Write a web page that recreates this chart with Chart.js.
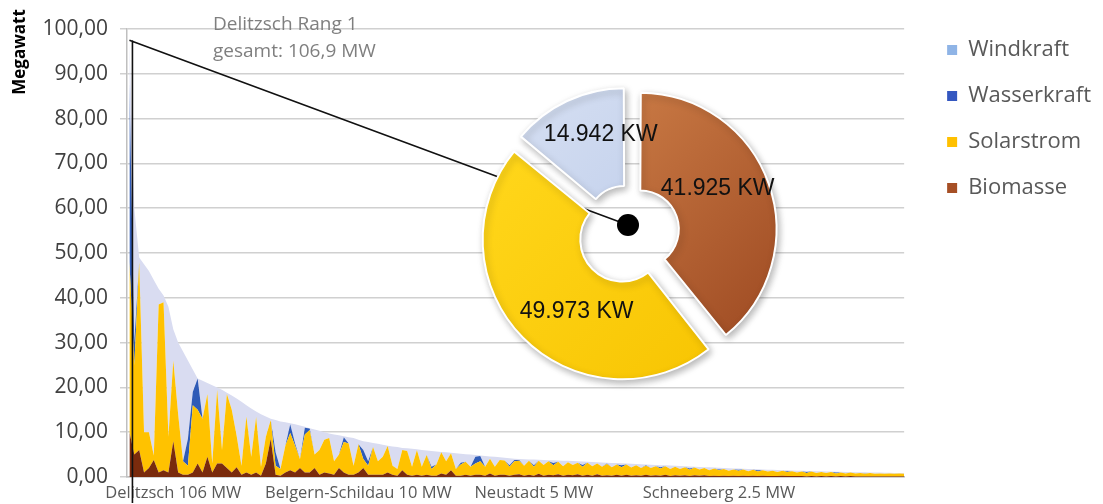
<!DOCTYPE html>
<html lang="de">
<head>
<meta charset="utf-8">
<title>Erneuerbare Energien je Gemeinde</title>
<script src="https://cdn.jsdelivr.net/npm/chart.js@4.4.1/dist/chart.umd.min.js"></script>
<style>
  html, body { margin: 0; padding: 0; background: #fff; }
  #wrap { position: relative; width: 1103px; height: 504px; }
  #mainChart { position: absolute; left: 0; top: 0; }
  #pieChart { position: absolute; left: 459px; top: 63px; }
</style>
</head>
<body>
<div id="wrap">
  <canvas id="mainChart" width="1103" height="504"></canvas>
  <canvas id="pieChart" width="340" height="340"></canvas>
</div>
<script>
// Leistung je Gemeinde in MW, absteigend sortiert (Rang 1 = Delitzsch)
const biomasse = [
  10, 5, 6, 1, 2, 3.8, 1, 1.5, 1, 8,
  1, 0.5, 0.5, 1, 3, 1, 4.5, 1, 3, 3,
  2, 1, 2.2, 0.5, 1, 0.5, 1, 0.3, 3, 8.5,
  0.5, 0.3, 1, 1.5, 1, 2, 1, 1, 2, 0.5,
  1, 0.8, 0.5, 2, 1, 0.5, 0.5, 1, 2, 0.5,
  0.5, 0.5, 0.5, 1, 0.5, 0.3, 1.5, 0.5, 0.3, 0.5,
  0.3, 0.5, 0.3, 0.3, 0.8, 0.5, 1.5, 0.3, 0.3, 0.5,
  0.3, 0.5, 0.5, 0.3, 0.8, 0.3, 0.5, 0.5, 0.3, 0.5,
  0.6, 0.3, 0.5, 0.3, 0.7, 0.3, 0.5, 0.4, 0.6, 0.3,
  0.5, 0.4, 0.6, 0.3, 0.5, 0.3, 0.6, 0.3, 0.4, 0.3,
  0.5, 0.3, 0.5, 0.3, 0.4, 0.3, 0.5, 0.3, 0.4, 0.3,
  0.5, 0.2, 0.4, 0.3, 0.4, 0.2, 0.4, 0.3, 0.4, 0.2,
  0.3, 0.2, 0.3, 0.2, 0.3, 0.2, 0.3, 0.2, 0.3, 0.2,
  0.3, 0.2, 0.2, 0.2, 0.3, 0.2, 0.2, 0.2, 0.2, 0.1,
  0.2, 0.1, 0.2, 0.1, 0.2, 0.1, 0.2, 0.1, 0.2, 0.1,
  0.1, 0.1, 0.1, 0.1, 0.1, 0.1, 0.1, 0.1, 0.1, 0.1
];
const solarstrom = [
  38, 20, 42, 9, 8, 1, 37.5, 37.5, 8, 18,
  13, 3, 2, 15, 12, 12, 14, 2, 16.5, 3,
  16.5, 14, 7, 2, 12.5, 4, 12.4, 2, 6, 4.2,
  2, 1.5, 6, 8.3, 6, 2, 8.5, 9.5, 3, 5.5,
  7.3, 7.9, 3, 3, 6.8, 7, 2, 6.3, 2, 2,
  6.2, 3, 4, 5.9, 2, 1.5, 4.5, 5.3, 2, 5.5,
  2, 4.4, 1.5, 2.5, 4.7, 3, 3.8, 1.5, 2.5, 2.9,
  2, 2.5, 3, 2, 3.3, 2, 3.3, 3.2, 2, 3,
  3.0, 2.2, 3.1, 2.0, 2.9, 2.4, 3.0, 2.2, 2.8, 2.1,
  2.8, 2.3, 2.6, 2.0, 2.7, 2.1, 2.4, 2.0, 2.5, 1.9,
  2.3, 1.9, 2.3, 1.8, 2.2, 1.7, 2.0, 1.7, 2.0, 1.6,
  1.9, 1.6, 1.9, 1.5, 1.8, 1.4, 1.7, 1.4, 1.6, 1.3,
  1.6, 1.3, 1.5, 1.2, 1.4, 1.2, 1.4, 1.1, 1.3, 1.0,
  1.2, 1.0, 1.2, 0.9, 1.1, 0.9, 1.1, 0.8, 1.0, 0.8,
  1.0, 0.8, 0.9, 0.8, 0.9, 0.7, 0.8, 0.7, 0.8, 0.7,
  0.8, 0.6, 0.8, 0.6, 0.7, 0.6, 0.7, 0.6, 0.7, 0.6
];
const wasserkraft = [
  40, 5, 0, 0, 0, 0, 0, 0, 0, 0,
  0, 0, 6, 3, 7, 0, 0, 0, 0, 0,
  0, 0, 0, 0, 0, 0, 0, 0, 0, 0,
  3, 0, 0, 2, 0.5, 0, 1.5, 0.3, 0, 0,
  0, 0, 0, 0, 1.1, 0, 0, 0, 2, 1,
  0, 0, 0, 0, 0, 0, 0, 0, 0, 0,
  0, 0, 0.5, 0, 0, 0, 0, 0, 0.4, 0,
  0, 1.5, 1.2, 0, 0, 0, 0, 0, 0.3, 0.3,
  0.2, 0, 0, 0.3, 0, 0, 0, 0.5, 0, 0,
  0, 0, 0, 0.4, 0, 0, 0, 0, 0.1, 0,
  0, 0.4, 0, 0, 0, 0, 0.1, 0, 0, 0.3,
  0, 0, 0, 0, 0, 0.3, 0, 0, 0, 0,
  0, 0.2, 0, 0, 0, 0.2, 0, 0, 0, 0.3,
  0, 0, 0, 0, 0, 0.2, 0, 0, 0, 0.2,
  0, 0, 0, 0, 0, 0.2, 0, 0, 0, 0,
  0, 0.1, 0, 0, 0, 0, 0, 0, 0, 0
];
const windkraft = [
  9.5, 30, 1, 37.5, 36, 39.2, 3.5, 1.5, 29, 7,
  16, 24.5, 17.5, 5, 0, 8.5, 2.5, 17.5, 0.5, 13.5,
  0.3, 3.2, 8.3, 14.3, 2.5, 10.8, 1.2, 11.7, 4.5, 0.3,
  7.2, 10.6, 5.2, 0.2, 4.3, 7.5, 0.2, 0.1, 5.6, 4.3,
  1.7, 1, 6, 4.3, 0.2, 1.4, 6.2, 1, 2, 4.3,
  0.9, 3.9, 2.7, 0.1, 4.3, 4.9, 0.5, 0.6, 4, 0.2,
  3.7, 1, 3.5, 2.9, 0.1, 2, 0.1, 3.5, 2, 1.7,
  2.7, 0.4, 0.1, 2.4, 0.5, 2.2, 0.6, 0.6, 1.6, 0.3,
  0.2, 1.46, 0.32, 1.28, 0.24, 1.1, 0.26, 0.62, 0.28, 1.24,
  0.3, 0.85, 0.3, 0.75, 0.2, 0.95, 0.3, 0.95, 0.2, 0.95,
  0.3, 0.45, 0.2, 0.85, 0.3, 0.85, 0.2, 0.75, 0.3, 0.45,
  0.2, 0.75, 0.2, 0.65, 0.2, 0.45, 0.2, 0.55, 0.2, 0.65,
  0.2, 0.35, 0.2, 0.56, 0.22, 0.28, 0.14, 0.5, 0.16, 0.22,
  0.18, 0.44, 0.2, 0.46, 0.12, 0.18, 0.15, 0.42, 0.19, 0.26,
  0.13, 0.4, 0.17, 0.34, 0.11, 0.18, 0.15, 0.32, 0.1, 0.28,
  0.16, 0.24, 0.12, 0.3, 0.18, 0.26, 0.14, 0.22, 0.1, 0.18
];

// beschriftete Gemeinden auf der x-Achse (Position in der Rangfolge)
const labelNames = ['Delitzsch 106 MW', 'Belgern-Schildau 10 MW', 'Neustadt 5 MW', 'Schneeberg 2.5 MW'];
const labelIndex = [9, 47, 83, 121];

// Delitzsch im Detail (kW)
const pieNames = ['Biomasse', 'Solarstrom', 'Windkraft'];
const pieValues = [41925, 49973, 14942];

const FONT = '"Open Sans", "DejaVu Sans", sans-serif';
const PIE_LEFT = 459, PIE_TOP = 63, PIE_SIZE = 340;
const DOT_SHIFT = { x: -1, y: -8 };
const PIE_DOT = { x: PIE_LEFT + PIE_SIZE / 2 + DOT_SHIFT.x, y: PIE_TOP + PIE_SIZE / 2 + DOT_SHIFT.y };

const legendColors = {
  Windkraft: '#8fb4e6',
  Wasserkraft: '#3457c0',
  Solarstrom: '#ffc000',
  Biomasse: '#a64f25'
};

function toPoints(arr) {
  return arr.map((v, i) => ({ x: i, y: v }));
}

function areaSet(label, values, color, fill) {
  return {
    label: label,
    data: toPoints(values),
    backgroundColor: color,
    borderColor: color,
    borderWidth: 0,
    pointRadius: 0,
    tension: 0,
    fill: fill
  };
}

// Linie von der Delitzsch-Spitze zum Kreisdiagramm + Beschriftung
const delitzschMarker = {
  id: 'delitzschMarker',
  afterDatasetsDraw(chart) {
    const { ctx, scales: { x, y } } = chart;
    const top = biomasse[0] + solarstrom[0] + wasserkraft[0] + windkraft[0];
    const px = x.getPixelForValue(0);
    const py = y.getPixelForValue(top);
    ctx.save();
    ctx.strokeStyle = '#111';
    ctx.lineWidth = 1.6;
    ctx.beginPath();
    ctx.moveTo(px + 3, py);
    ctx.lineTo(px + 3, 503);
    ctx.moveTo(px, py);
    ctx.lineTo(PIE_DOT.x, PIE_DOT.y);
    ctx.stroke();
    ctx.fillStyle = '#7f7f7f';
    ctx.font = '19px ' + FONT;
    ctx.textBaseline = 'middle';
    ctx.fillText('Delitzsch Rang 1', 213, 25);
    ctx.fillText('gesamt: 106,9 MW', 213, 52);
    ctx.restore();
  },
  afterDraw(chart) {
    // Achsentitel oben links, wie im Original
    const ctx = chart.ctx;
    ctx.save();
    ctx.translate(20, 52);
    ctx.rotate(-Math.PI / 2);
    ctx.fillStyle = '#000';
    ctx.font = 'bold 17px ' + FONT;
    ctx.textAlign = 'center';
    ctx.textBaseline = 'middle';
    ctx.fillText('Megawatt', 0, 0);
    ctx.restore();
  }
};

new Chart(document.getElementById('mainChart'), {
  type: 'line',
  data: {
    datasets: [
      areaSet('Biomasse', biomasse, '#7a2b0d', 'origin'),
      areaSet('Solarstrom', solarstrom, '#ffc200', '-1'),
      areaSet('Wasserkraft', wasserkraft, '#2f5bb7', '-1'),
      areaSet('Windkraft', windkraft, '#d9dcf1', '-1')
    ]
  },
  options: {
    responsive: false,
    animation: false,
    layout: { padding: { left: 8, top: 15, right: 2, bottom: 2 } },
    scales: {
      x: {
        type: 'linear',
        min: -0.5,
        max: 159,
        afterBuildTicks: (axis) => { axis.ticks = labelIndex.map(v => ({ value: v })); },
        ticks: {
          autoSkip: false,
          maxRotation: 0,
          color: '#595959',
          padding: 6,
          font: { family: FONT, size: 16.5 },
          callback: (v, i) => labelNames[i]
        },
        grid: { display: false, drawTicks: false },
        border: { color: '#bfbfbf', width: 1.5 },
        afterFit: (s) => { s.height = 25; }
      },
      xTop: {
        type: 'linear',
        position: 'top',
        ticks: { display: false },
        grid: { display: false, drawTicks: false },
        border: { display: false },
        afterFit: (s) => { s.height = 14; }
      },
      y: {
        stacked: true,
        min: 0,
        max: 100,
        ticks: {
          stepSize: 10,
          color: '#404040',
          padding: 12,
          font: { family: FONT, size: 21 },
          callback: (v) => v.toFixed(2).replace('.', ',')
        },
        grid: { color: '#d0d0d0', lineWidth: 1.5, tickLength: 7 },
        border: { color: '#bfbfbf', width: 1.5 },
        afterFit: (s) => { s.width = 119; }
      },
      yRight: {
        position: 'right',
        ticks: { display: false },
        grid: { display: false, drawTicks: false },
        border: { display: false },
        afterFit: (s) => { s.width = 19; }
      }
    },
    plugins: {
      legend: {
        position: 'right',
        align: 'start',
        reverse: true,
        labels: {
          boxWidth: 10,
          boxHeight: 10,
          padding: 24,
          color: '#595959',
          font: { family: FONT, size: 22 },
          generateLabels: (chart) => {
            const items = Chart.defaults.plugins.legend.labels.generateLabels(chart);
            items.forEach(it => {
              it.fillStyle = legendColors[it.text];
              it.strokeStyle = legendColors[it.text];
              it.lineWidth = 0;
            });
            return items;
          }
        }
      },
      tooltip: { enabled: false }
    }
  },
  plugins: [delitzschMarker]
});

// Kreisdiagramm Delitzsch
const pieShades = [
  ['#cf8049', '#9b4720'],
  ['#ffd61a', '#f7c300'],
  ['#d3ddf1', '#b2c4e7']
];
const pieOffsets = [47, 38, 45];
const pieLabelNudge = [[-5, -11], [19, 8], [13, -11]];

function sliceFill(ctx) {
  const chart = ctx.chart;
  const area = chart.chartArea;
  if (!area) return pieShades[ctx.dataIndex][0];
  const c = pieShades[ctx.dataIndex];
  const g = chart.ctx.createLinearGradient(area.left, area.top, area.right, area.bottom);
  g.addColorStop(0.2, c[0]);
  g.addColorStop(0.9, c[1]);
  return g;
}

function fmtKW(v) {
  return String(v).replace(/\B(?=(\d{3})+(?!\d))/g, '.') + ' KW';
}

const pieDecor = {
  id: 'pieDecor',
  beforeDatasetsDraw(chart) {
    const ctx = chart.ctx;
    ctx.save();
    ctx.shadowColor = 'rgba(0,0,0,0.28)';
    ctx.shadowBlur = 7;
    ctx.shadowOffsetX = 2;
    ctx.shadowOffsetY = 3;
  },
  afterDatasetsDraw(chart) {
    const ctx = chart.ctx;
    ctx.restore();
    const meta = chart.getDatasetMeta(0);
    ctx.save();
    ctx.fillStyle = '#111';
    ctx.font = '23px "Liberation Sans", Arial, sans-serif';
    ctx.textAlign = 'center';
    ctx.textBaseline = 'middle';
    meta.data.forEach((arc, i) => {
      const p = arc.getProps(['x', 'y', 'startAngle', 'endAngle', 'innerRadius', 'outerRadius']);
      const mid = (p.startAngle + p.endAngle) / 2;
      const circ = p.endAngle - p.startAngle;
      const shift = pieOffsets[i] / 4 * (2 - Math.sin(Math.min(Math.PI, circ)));
      const r = (p.innerRadius + p.outerRadius) / 2 + shift;
      const lx = p.x + Math.cos(mid) * r + pieLabelNudge[i][0];
      const ly = p.y + Math.sin(mid) * r + pieLabelNudge[i][1];
      ctx.fillText(fmtKW(pieValues[i]), lx, ly);
    });
    // Punkt in der Mitte
    const c = meta.data[0];
    ctx.fillStyle = '#000';
    ctx.beginPath();
    ctx.arc(c.x + DOT_SHIFT.x, c.y + DOT_SHIFT.y, 11, 0, Math.PI * 2);
    ctx.fill();
    ctx.restore();
  }
};

new Chart(document.getElementById('pieChart'), {
  type: 'doughnut',
  data: {
    labels: pieNames,
    datasets: [{
      data: pieValues,
      backgroundColor: sliceFill,
      borderColor: '#ffffff',
      borderWidth: 2,
      offset: pieOffsets,
      radius: 132,
      cutout: '26%'
    }]
  },
  options: {
    responsive: false,
    animation: false,
    plugins: { legend: { display: false }, tooltip: { enabled: false } }
  },
  plugins: [pieDecor]
});
</script>
</body>
</html>
